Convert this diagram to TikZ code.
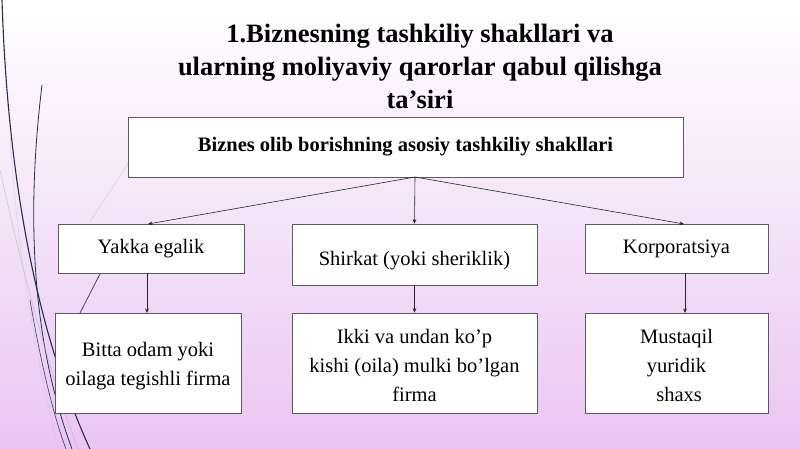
\documentclass[tikz,border=0pt]{standalone}
\usepackage{fontspec}
\setmainfont{Liberation Serif}
\usetikzlibrary{arrows.meta}
\definecolor{bgbot}{RGB}{234,198,242}
\definecolor{bgmid}{RGB}{243,226,249}
\definecolor{navy}{RGB}{40,44,80}
\definecolor{boxline}{RGB}{90,90,100}
\newcommand{\lowtext}[2]{\raisebox{#1}[\height][\depth]{\begin{tabular}{@{}c@{}}#2\end{tabular}}}
\tikzset{
  box/.style={draw=boxline, fill=white, line width=0.7pt, inner sep=0pt, align=center,
    font=\fontsize{20.5}{29}\selectfont},
  conn/.style={draw=black!85, line width=0.6pt, -{Stealth[length=4.5pt,width=3.6pt]}},
  decor/.style={draw=navy, line width=1pt},
}
\begin{document}
\begin{tikzpicture}[x=1pt,y=-1pt]
\useasboundingbox (0,0) rectangle (800,449);
\shade[top color=white, middle color=bgmid, bottom color=bgbot] (0,0) rectangle (800,449);
% decorative wisps
\draw[decor, line width=1.1pt] (2,0) .. controls (8,190) and (40,340) .. (90,449);
\draw[decor, line width=0.8pt] (42,85) .. controls (28,200) and (28,330) .. (72,449);
\draw[decor, line width=0.7pt, draw opacity=0.8] (30,300) .. controls (42,370) and (55,420) .. (66,449);
\draw[gray!60, line width=0.8pt, opacity=0.5] (0,170) .. controls (20,260) and (45,360) .. (78,449);
\draw[gray!50, line width=0.6pt, opacity=0.4] (10,130) .. controls (15,230) and (30,330) .. (58,449);
\draw[pink!60!gray, line width=0.8pt, opacity=0.3] (130,160) .. controls (115,185) and (100,205) .. (90,222);
\draw[navy, line width=0.8pt, opacity=0.85] (101,272) -- (80,313);
% title
\node[font=\fontsize{26.5}{33}\selectfont\bfseries, align=center] (title) at (420,66)
  {1.Biznesning tashkiliy shakllari va\\ularning moliyaviy qarorlar qabul qilishga\\ta’siri};
% boxes
\node[box, minimum width=555pt, minimum height=60pt, font=\fontsize{20.5}{29}\selectfont\bfseries] (top) at (405.5,147)
  {Biznes olib borishning asosiy tashkiliy shakllari};
\node[box, minimum width=186pt, minimum height=49pt] (yakka) at (151,248.5) {Yakka egalik};
\node[box, minimum width=245pt, minimum height=61pt] (shirkat) at (414.5,254.5) {\lowtext{-5pt}{Shirkat (yoki sheriklik)}};
\node[box, minimum width=183pt, minimum height=49pt] (korp) at (676.5,248.5) {Korporatsiya};
\node[box, minimum width=186pt, minimum height=100pt] (bitta) at (148,363) {\lowtext{-2pt}{Bitta odam yoki\\oilaga tegishli firma}};
\node[box, minimum width=245pt, minimum height=100pt] (ikki) at (414.5,363) {\lowtext{-4pt}{Ikki va undan ko’p\\kishi (oila) mulki bo’lgan\\firma}};
\node[box, minimum width=183pt, minimum height=100pt] (must) at (676.5,363) {\lowtext{-4pt}{Mustaqil\\yuridik\\\ shaxs}};
% connectors
\coordinate (hub) at (415,177);
\coordinate (yin) at (148,224);
\coordinate (kin) at (684,224);
\draw[conn] (hub) -- (yin);
\draw[conn] (hub) -- (shirkat.north);
\draw[conn] (hub) -- (kin);
\coordinate (yout) at (147,273);
\coordinate (ybin) at (147,313);
\draw[conn] (yout) -- (ybin);
\draw[conn] (shirkat.south) -- (ikki.north);
\coordinate (kout) at (685,273);
\coordinate (kbin) at (685,313);
\draw[conn] (kout) -- (kbin);
\end{tikzpicture}
\end{document}
